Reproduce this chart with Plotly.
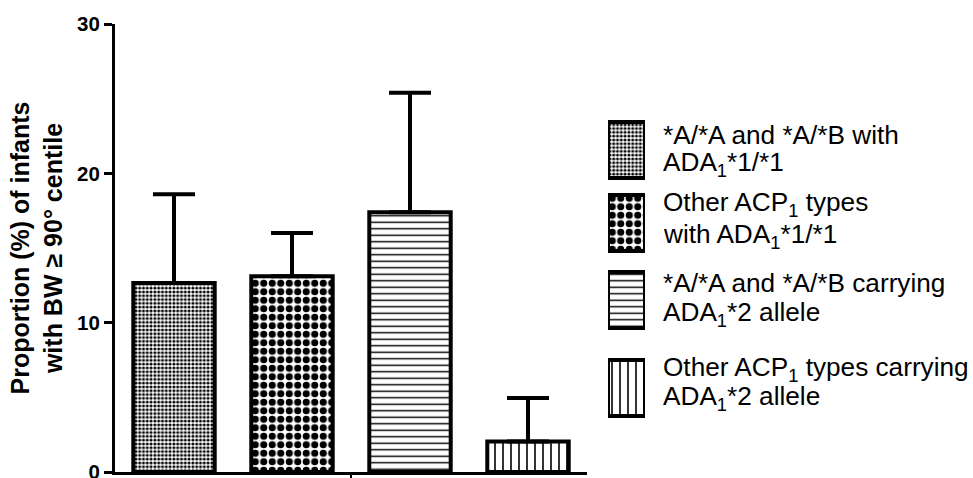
import plotly.graph_objects as go

# ---- data ----
group_lines = [
    ["*A/*A and *A/*B with", "ADA<sub>1</sub>*1/*1"],
    ["Other ACP<sub>1</sub> types", "with ADA<sub>1</sub>*1/*1"],
    ["*A/*A and *A/*B carrying", "ADA<sub>1</sub>*2 allele"],
    ["Other ACP<sub>1</sub> types carrying", "ADA<sub>1</sub>*2 allele"],
]
proportion = [12.65, 13.1, 17.4, 2.05]
upper_limit = [18.6, 16.0, 25.4, 4.95]
y_ticks = [0, 10, 20, 30]

# ---- layout constants (pixels) ----
W, H = 973, 478
L, R, T, B = 115, 0, 24, 6
PLOT_RIGHT = 587
SW_X0, SW_X1 = 608, 645
TEXT_X = 661
ROW_Y = [150, 223, 300, 388]
SW_H = 56
LINE_Y = [[135, 164], [204, 236], [283, 314], [369, 398]]

pw = W - L - R
def px2paper(px):
    return (px - L) / pw

FONT = "Liberation Sans, Arial, sans-serif"

patterns = [
    dict(shape=".", size=3.8, solidity=0.5, fgcolor="black", bgcolor="white", fillmode="replace"),
    dict(shape=".", size=8.5, solidity=0.55, fgcolor="black", bgcolor="white", fillmode="replace"),
    dict(shape="-", size=6.5, solidity=0.22, fgcolor="black", bgcolor="white", fillmode="replace"),
    dict(shape="|", size=8, solidity=0.2, fgcolor="black", bgcolor="white", fillmode="replace"),
]

fig = go.Figure()
xs = list(range(len(proportion)))
for i in xs:
    fig.add_trace(go.Bar(
        x=[i], y=[proportion[i]], width=0.69,
        marker=dict(color="white", line=dict(color="black", width=4), pattern=patterns[i]),
        error_y=dict(type="data", symmetric=False,
                     array=[upper_limit[i] - proportion[i]], arrayminus=[0],
                     color="black", thickness=4, width=21),
        showlegend=False, xaxis="x", yaxis="y",
    ))
    # legend swatch
    fig.add_trace(go.Bar(
        x=[0], y=[SW_H], base=[ROW_Y[i] - SW_H / 2], width=1,
        marker=dict(color="white", line=dict(color="black", width=4), pattern=patterns[i]),
        showlegend=False, xaxis="x2", yaxis="y2", hoverinfo="skip",
    ))
    for j, line in enumerate(group_lines[i]):
        fig.add_annotation(
            x=px2paper(TEXT_X), xref="paper", y=LINE_Y[i][j], yref="y2",
            text=line, showarrow=False, xanchor="left", yanchor="middle", align="left",
            font=dict(family=FONT, size=26.2, color="black"),
        )

fig.update_layout(
    width=W, height=H,
    margin=dict(l=L, r=R, t=T, b=B, autoexpand=False),
    plot_bgcolor="white", paper_bgcolor="white",
    barmode="overlay",
    font=dict(family=FONT, color="black"),
    xaxis=dict(domain=[0, px2paper(PLOT_RIGHT)], range=[-0.5, 3.5], automargin=False,
               showline=True, linecolor="black", linewidth=3,
               tickvals=[1.5], ticktext=[""], ticks="outside", ticklen=6, tickwidth=2,
               tickcolor="black", showgrid=False, zeroline=False, fixedrange=True),
    yaxis=dict(range=[0, 30], tickvals=y_ticks, automargin=False,
               showline=True, linecolor="black", linewidth=3,
               ticks="outside", ticklen=8, tickwidth=3, tickcolor="black",
               tickfont=dict(family=FONT, size=20.5, weight="bold"),
               ticklabeloverflow="allow",
               showgrid=False, zeroline=False,
               title=dict(text="Proportion (%) of infants<br>with BW \u2265 90\u00b0 centile",
                          font=dict(family=FONT, size=25, weight="bold"), standoff=8)),
    xaxis2=dict(domain=[px2paper(SW_X0), px2paper(SW_X1)], range=[-0.5, 0.5],
                visible=False, anchor="y2", automargin=False),
    yaxis2=dict(domain=[0, 1], range=[H - B, T], visible=False, anchor="x2", automargin=False),
)

fig.write_html("out.html", config={"displayModeBar": False},
               post_script="document.body.style.margin='0';document.body.style.padding='0';")
